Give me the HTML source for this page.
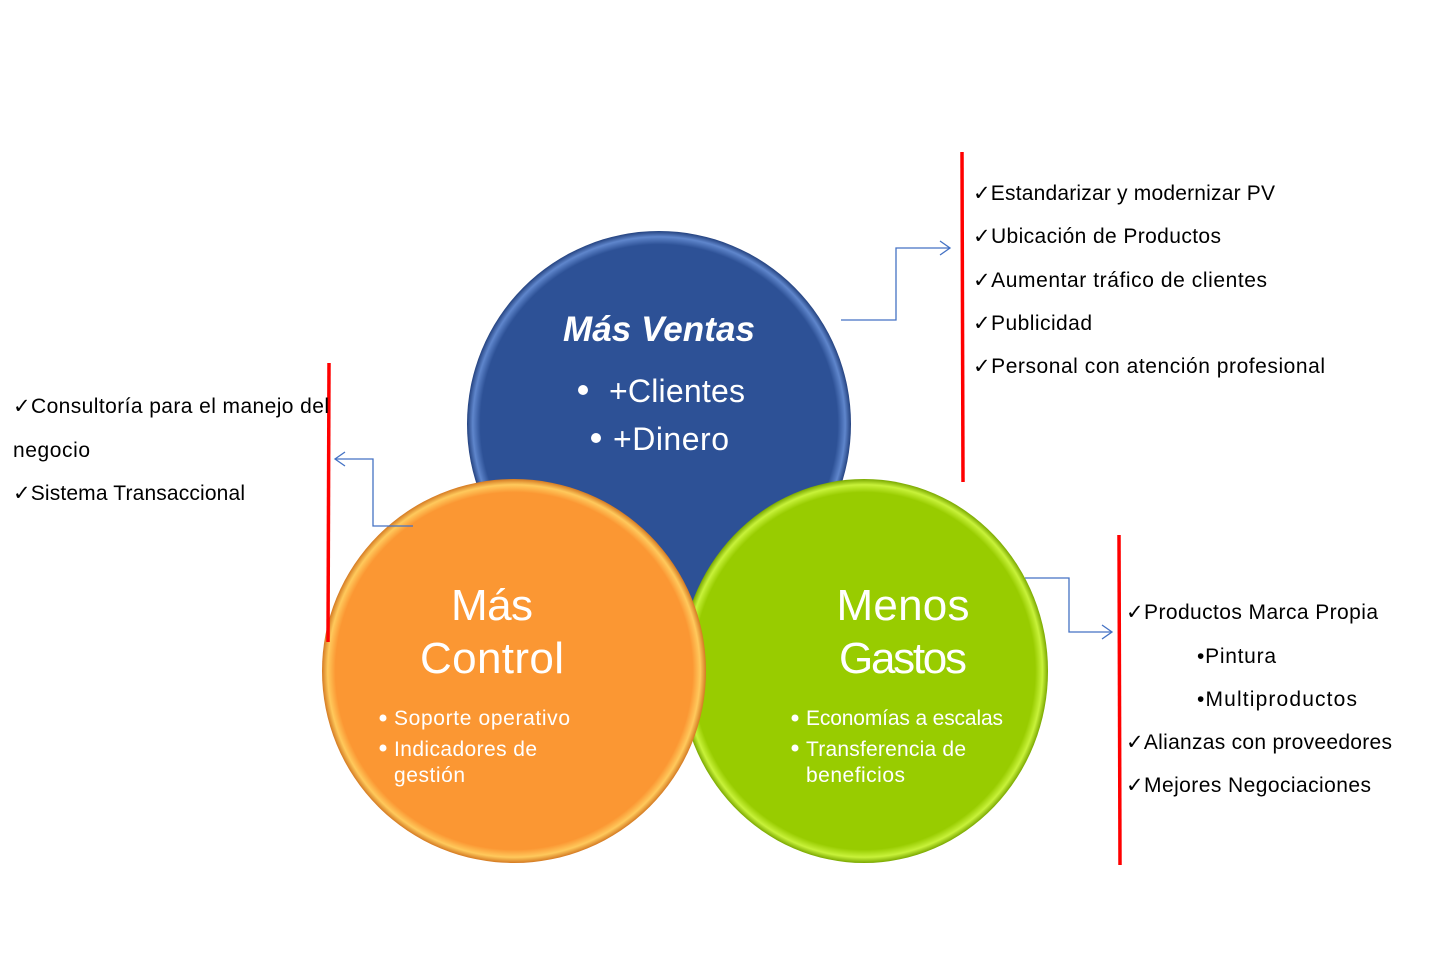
<!DOCTYPE html>
<html><head><meta charset="utf-8"><style>
html,body{margin:0;padding:0;background:#fff;}
svg{display:block;}
text{font-family:"Liberation Sans",sans-serif;}
</style></head><body>
<svg width="1437" height="960" viewBox="0 0 1437 960" xmlns="http://www.w3.org/2000/svg">
<defs>
<radialGradient id="gb" cx="50%" cy="50%" r="50%"><stop offset="0.93" stop-color="#2d5196"/><stop offset="0.97" stop-color="#5f86cc"/><stop offset="1" stop-color="#24427f"/></radialGradient>
<radialGradient id="go" cx="50%" cy="50%" r="50%"><stop offset="0.93" stop-color="#fb9733"/><stop offset="0.97" stop-color="#ffc95c"/><stop offset="1" stop-color="#d47a22"/></radialGradient>
<radialGradient id="gg" cx="50%" cy="50%" r="50%"><stop offset="0.93" stop-color="#98cc00"/><stop offset="0.97" stop-color="#c8f23a"/><stop offset="1" stop-color="#7aa800"/></radialGradient>
</defs>
<ellipse cx="659" cy="424" rx="192" ry="193" fill="url(#gb)"/>
<ellipse cx="864" cy="671" rx="184" ry="192" fill="url(#gg)"/>
<ellipse cx="514" cy="671" rx="192" ry="192" fill="url(#go)"/>

<g fill="#fff">
<text x="659" y="341" font-size="35" font-weight="bold" font-style="italic" text-anchor="middle" textLength="192">Más Ventas</text>
<circle cx="583" cy="390" r="5"/>
<text x="609" y="402" font-size="32" textLength="136">+Clientes</text>
<circle cx="596" cy="438" r="5"/>
<text x="613" y="450" font-size="32" textLength="116">+Dinero</text>
<text x="492" y="620" font-size="44" text-anchor="middle" textLength="82">Más</text>
<text x="492" y="673" font-size="44" text-anchor="middle" textLength="144">Control</text>
<circle cx="383" cy="718" r="3.5"/>
<text x="394" y="725" font-size="21" textLength="176">Soporte operativo</text>
<circle cx="383" cy="748" r="3.5"/>
<text x="394" y="756" font-size="21" textLength="143">Indicadores de</text>
<text x="394" y="782" font-size="21" textLength="71">gestión</text>
<text x="903" y="620" font-size="44" text-anchor="middle" textLength="133">Menos</text>
<text x="903" y="673" font-size="44" text-anchor="middle" textLength="128">Gastos</text>
<circle cx="795" cy="718" r="3.5"/>
<text x="806" y="725" font-size="21" textLength="197">Economías a escalas</text>
<circle cx="795" cy="748" r="3.5"/>
<text x="806" y="756" font-size="21" textLength="160">Transferencia de</text>
<text x="806" y="782" font-size="21" textLength="99">beneficios</text>
</g>

<g stroke="#4472c4" stroke-width="1.3" fill="none">
<polyline points="841,320 896,320 896,248 950,248"/>
<polyline points="940,241 950,248 940,255"/>
<polyline points="413,526 373,526 373,459 335,459"/>
<polyline points="345,452 335,459 345,466"/>
<polyline points="1025,578 1069,578 1069,632 1112,632"/>
<polyline points="1102,625 1112,632 1102,639"/>
</g>

<g stroke="#ff0000" stroke-width="3.5">
<line x1="962" y1="152" x2="963" y2="482"/>
<line x1="329" y1="363" x2="328" y2="642"/>
<line x1="1119" y1="535" x2="1120" y2="865"/>
</g>

<g fill="#000" font-size="21">
<text x="973" y="200" textLength="302">✓Estandarizar y modernizar PV</text>
<text x="973" y="243" textLength="248">✓Ubicación de Productos</text>
<text x="973" y="287" textLength="294">✓Aumentar tráfico de clientes</text>
<text x="973" y="330" textLength="119">✓Publicidad</text>
<text x="973" y="373" textLength="352">✓Personal  con atención profesional</text>
<text x="13" y="413" textLength="316">✓Consultoría para el manejo del</text>
<text x="13" y="457" textLength="77">negocio</text>
<text x="13" y="500" textLength="232">✓Sistema Transaccional</text>
<text x="1126" y="619" textLength="252">✓Productos Marca Propia</text>
<text x="1197" y="663" textLength="79">•Pintura</text>
<text x="1197" y="706" textLength="160">•Multiproductos</text>
<text x="1126" y="749" textLength="266">✓Alianzas con proveedores</text>
<text x="1126" y="792" textLength="245">✓Mejores Negociaciones</text>
</g>
</svg>
</body></html>
